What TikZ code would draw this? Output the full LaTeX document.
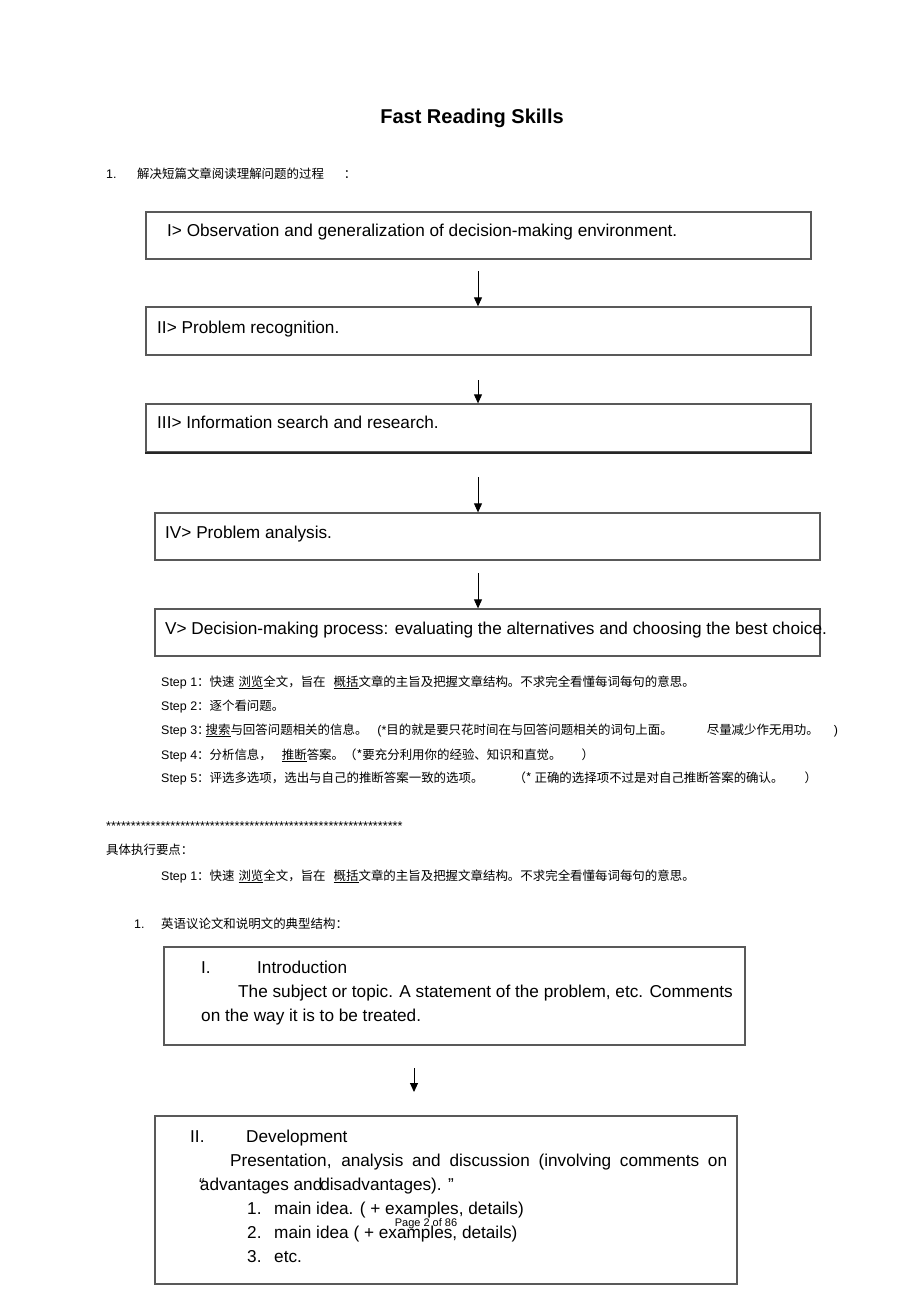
\documentclass[tikz,border=0pt]{standalone}
\usepackage{fontspec}
\setmainfont{Liberation Sans}
\newfontfamily\cjk{Noto Sans CJK SC}
\usetikzlibrary{arrows.meta}
\newcommand{\zh}[1]{{\cjk #1}}

\begin{document}
\begin{tikzpicture}[x=1pt,y=-1pt,
    box/.style={draw=black!65,line width=1.3pt,inner sep=0pt},
    arr/.style={line width=0.9pt,-{Triangle[length=9pt,width=8pt]}},
    boxtext/.style={anchor=base west,inner sep=0pt,font=\fontsize{17.2}{20}\selectfont},
    steptext/.style={anchor=base west,inner sep=0pt,font=\fontsize{12.45}{14}\selectfont}]
  \useasboundingbox[fill=white](0,0) rectangle (920,1303);

  % title and first heading
  \node[anchor=base,inner sep=0pt,font=\bfseries\fontsize{20}{24}\selectfont] (title) at (472,124) {Fast Reading Skills};
  \node[steptext] (n1) at (106,178) {1.};
  \node[steptext] (q1) at (137,178) {\zh{解决短篇文章阅读理解问题的过程}\hspace{20pt}\zh{：}};

  % five stages
  \node[box,minimum width=665pt,minimum height=47pt] (b1) at (478.5,235.5) {};
  \node[box,minimum width=665pt,minimum height=48pt] (b2) at (478.5,331) {};
  \node[box,minimum width=665pt,minimum height=48pt] (b3) at (478.5,428) {};
  \draw[line width=2pt,black!85] (b3.south west) -- (b3.south east);
  \node[box,minimum width=665pt,minimum height=47pt] (b4) at (487.5,536.5) {};
  \node[box,minimum width=665pt,minimum height=47pt] (b5) at (487.5,632.5) {};

  \node[boxtext] (t1) at (167,236) {I> Observation and generalization of decision-making environment.};
  \node[boxtext] (t2) at (157,333) {II> Problem recognition.};
  \node[boxtext] (t3) at (157,428) {III> Information search and research.};
  \node[boxtext] (t4) at (165,538) {IV> Problem analysis.};
  \node[boxtext] (t5) at (165,634) {V> Decision-making process: evaluating the alternatives and choosing the best choice.};

  \coordinate (a1) at (478,271);
  \coordinate (a2) at (478,380);
  \coordinate (a3) at (478,477);
  \coordinate (a4) at (478,573);
  \draw[arr] (a1) -- (a1 |- b2.north);
  \draw[arr] (a2) -- (a2 |- b3.north);
  \draw[arr] (a3) -- (a3 |- b4.north);
  \draw[arr] (a4) -- (a4 |- b5.north);

  % steps
  \node[steptext] (s1) at (161,686) {Step 1\zh{：快速}\hspace{4pt}\underline{\zh{浏览}}\zh{全文，旨在}\hspace{8pt}\underline{\zh{概括}}\zh{文章的主旨及把握文章结构。不求完全看懂每词每句的意思。}};
  \node[steptext] (s2) at (161,710) {Step 2\zh{：逐个看问题。}};
  \node[steptext] (s3) at (161,734) {Step 3\zh{：}\kern-4pt\underline{\zh{搜索}}\zh{与回答问题相关的信息。}\hspace{10pt}(*\zh{目的就是要只花时间在与回答问题相关的词句上面。}\hspace{34pt}\zh{尽量减少作无用功。}\hspace{15pt})};
  \node[steptext] (s4) at (161,759) {Step 4\zh{：分析信息，}\hspace{10pt}\underline{\zh{推断}}\zh{答案。（*要充分利用你的经验、知识和直觉。}\hspace{20pt}\zh{）}};
  \node[steptext] (s5) at (161,782) {Step 5\zh{：评选多选项，选出与自己的推断答案一致的选项。}\hspace{30pt}\zh{（* 正确的选择项不过是对自己推断答案的确认。}\hspace{21pt}\zh{）}};

  \node[anchor=base west,inner sep=0pt,font=\fontsize{12.7}{14}\selectfont] (stars) at (106,830) {************************************************************};
  \node[steptext] (key) at (106,854) {\zh{具体执行要点：}};
  \node[steptext] (s1b) at (161,880) {Step 1\zh{：快速}\hspace{4pt}\underline{\zh{浏览}}\zh{全文，旨在}\hspace{8pt}\underline{\zh{概括}}\zh{文章的主旨及把握文章结构。不求完全看懂每词每句的意思。}};
  \node[steptext] (n2) at (134,928) {1.};
  \node[steptext] (q2) at (161,928) {\zh{英语议论文和说明文的典型结构：}};

  % essay structure
  \node[box,minimum width=581pt,minimum height=98pt] (b6) at (454.5,996) {};
  \node[box,minimum width=582pt,minimum height=168pt] (b7) at (446,1200) {};

  \node[boxtext] (i1) at (201,973) {I.};
  \node[boxtext] (i2) at (257,973) {Introduction};
  \node[boxtext] (i3) at (238,997) {The subject or topic. A statement of the problem, etc. Comments};
  \node[boxtext] (i4) at (201,1021) {on the way it is to be treated.};

  \coordinate (a5) at (414,1068);
  \coordinate (a5e) at (414,1092);
  \draw[arr] (a5) -- (a5e);

  \node[boxtext] (d1) at (190,1142) {II.};
  \node[boxtext] (d2) at (246,1142) {Development};
  \node[boxtext] (d3) at (230,1166) {\makebox[497pt][s]{Presentation, analysis and discussion (involving comments on}};
  \node[boxtext] (d4) at (199,1190) {“\kern-5pt advantages and\kern-2pt disadvantages). ”};
  \node[boxtext] (l1n) at (247,1214) {1.};
  \node[boxtext] (l1) at (274,1214) {main idea. ( + examples, details)};
  \node[boxtext] (l2n) at (247,1238) {2.};
  \node[boxtext] (l2) at (274,1238) {main idea ( + examples, details)};
  \node[boxtext] (l3n) at (247,1262) {3.};
  \node[boxtext] (l3) at (274,1262) {etc.};
  \node[anchor=base,inner sep=0pt,font=\fontsize{11}{13}\selectfont] (page) at (426,1226) {Page 2 of 86};
\end{tikzpicture}
\end{document}
